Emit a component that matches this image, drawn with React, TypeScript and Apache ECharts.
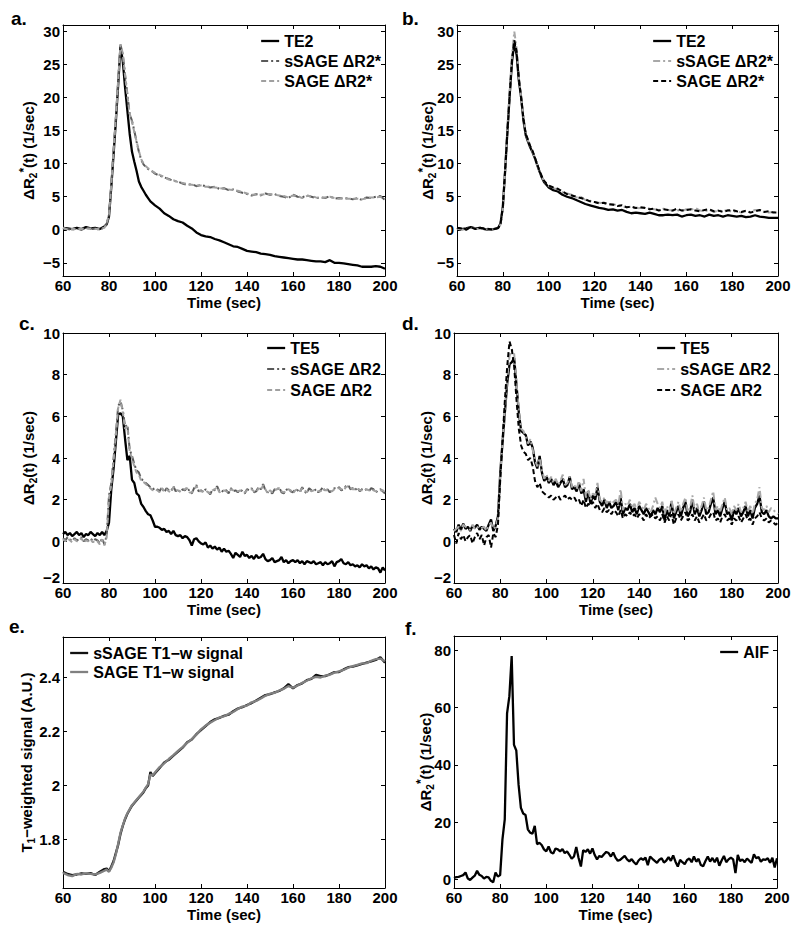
import React, { useEffect, useRef } from "react";
import * as echarts from "echarts";

// ---------- time grids ----------
const tA = [60, 62, 64, 66, 68, 70, 72, 74, 76, 78,
  79, 80, 81, 82, 83, 84, 85, 86, 87, 88, 89, 90, 91, 92, 93, 94, 95, 96, 97, 98, 99, 100,
  102, 104, 106, 108, 110, 112, 114, 116, 118, 120, 122, 124, 126, 128, 130, 132, 134, 136, 138, 140,
  142, 144, 146, 148, 150, 152, 154, 156, 158, 160, 162, 164, 166, 168, 170, 172, 174, 176, 178, 180,
  182, 184, 186, 188, 190, 192, 194, 196, 198, 200];
const tB: number[] = [];
for (let s = 60; s <= 200; s++) tB.push(s);

// ---------- panel a ----------
const aTE2 = [0.3, 0.2, 0.1, 0.3, 0.1, 0.4, 0.2, 0.3, 0.1, 0.5,
  0.8, 2.0, 6.5, 11.5, 16.5, 22, 27.8, 25.5, 21.5, 18, 14.5, 11.8, 10.3, 8.9, 7.3, 6.5, 5.9, 5.3, 4.8, 4.3, 4.0, 3.7,
  3.2, 2.5, 2.1, 1.6, 1.3, 1.1, 0.6, 0.2, -0.4, -0.8, -1.0, -1.1, -1.4, -1.6, -1.9, -2.2, -2.5, -2.6, -2.9, -3.2,
  -3.3, -3.4, -3.6, -3.7, -3.8, -4.0, -4.1, -4.2, -4.3, -4.4, -4.5, -4.5, -4.6, -4.7, -4.8, -4.8, -4.9, -4.6, -5.0, -5.0,
  -5.1, -5.2, -5.3, -5.4, -5.6, -5.6, -5.6, -5.5, -5.6, -5.9];
const aSSAGE = [0.2, 0.1, 0.0, 0.2, 0.0, 0.3, 0.1, 0.2, 0.0, 0.4,
  0.9, 2.2, 6.8, 12, 17, 22.5, 28, 26.5, 23.5, 20.5, 17.5, 16.5, 15, 13.3, 11.8, 10.6, 9.9, 9.5, 9.2, 9.0, 8.8, 8.5,
  8.2, 7.9, 7.7, 7.4, 7.3, 7.0, 6.8, 6.9, 6.6, 6.8, 6.6, 6.4, 6.5, 6.2, 6.3, 6.0, 6.1, 5.8, 5.6, 5.4,
  5.2, 5.4, 5.2, 5.5, 5.3, 5.4, 5.1, 5.0, 4.8, 5.3, 5.0, 4.9, 5.2, 5.0, 4.8, 4.9, 4.8, 5.1, 4.7, 4.8,
  4.7, 4.8, 4.6, 4.8, 4.5, 4.9, 4.8, 5.0, 5.1, 4.5];
const aSAGE = [0.3, 0.0, 0.1, 0.1, 0.1, 0.2, 0.2, 0.1, 0.1, 0.3,
  1.0, 2.3, 6.9, 12.2, 17.2, 22.8, 28.1, 26.7, 23.3, 20.3, 17.6, 16.3, 14.8, 13.4, 11.9, 10.7, 10.0, 9.6, 9.3, 9.1, 8.8, 8.6,
  8.3, 8.0, 7.6, 7.5, 7.2, 7.1, 6.9, 6.8, 6.7, 6.7, 6.5, 6.5, 6.4, 6.3, 6.2, 6.1, 6.0, 5.9, 5.7, 5.5,
  5.3, 5.3, 5.3, 5.4, 5.4, 5.3, 5.2, 5.1, 4.9, 5.2, 5.1, 4.8, 5.1, 5.1, 4.9, 4.8, 4.9, 5.0, 4.8, 4.7,
  4.8, 4.7, 4.7, 4.7, 4.6, 4.8, 4.9, 4.9, 5.0, 4.6];

// ---------- panel b ----------
const bTE2 = [0.3, 0.1, 0.2, 0.4, 0.2, 0.3, 0.1, 0.0, 0.1, 0.3,
  1.0, 3.5, 9, 15, 20.5, 25.5, 28.3, 26.5, 22.5, 20, 16.5, 14.3, 13.3, 12.4, 11.7, 10.8, 9.8, 8.8, 7.9, 7.2, 6.8, 6.4,
  6.0, 5.8, 5.3, 5.0, 4.8, 4.5, 4.2, 3.9, 3.7, 3.5, 3.3, 3.2, 3.0, 3.1, 2.9, 3.0, 2.7, 2.5, 2.6, 2.5,
  2.4, 2.6, 2.4, 2.2, 2.2, 2.3, 2.2, 2.3, 2.0, 2.2, 2.3, 2.1, 2.2, 2.0, 2.3, 2.1, 2.2, 2.0, 2.2, 2.1,
  2.0, 2.1, 1.9, 2.0, 2.2, 2.0, 1.9, 1.8, 1.8, 1.8];
const bSSAGE = [0.2, 0.0, 0.1, 0.3, 0.2, 0.1, 0.2, 0.0, 0.1, 0.2,
  0.8, 3.2, 9, 15.5, 21, 26.5, 30, 27.5, 23, 20, 17, 14.5, 13.5, 12.5, 11.8, 10.8, 9.8, 8.8, 8.0, 7.4, 6.9, 6.6,
  6.3, 6.1, 5.7, 5.5, 5.3, 4.9, 5.0, 4.5, 4.4, 4.2, 4.1, 4.0, 3.8, 3.9, 3.7, 3.6, 3.4, 3.5, 3.2, 3.3,
  3.4, 3.2, 3.1, 3.0, 3.2, 3.0, 2.9, 3.0, 2.8, 3.1, 3.0, 3.3, 2.9, 2.8, 3.0, 2.7, 2.9, 2.8, 3.0, 2.7,
  2.8, 2.6, 2.8, 2.7, 3.0, 2.9, 2.7, 2.6, 2.7, 2.6];
const bSAGE = [0.3, 0.2, 0.0, 0.4, 0.1, 0.3, 0.2, 0.1, 0.0, 0.3,
  0.9, 3.4, 9, 15, 20.5, 25.8, 28.7, 27, 22.8, 19.8, 16.8, 14.5, 13.6, 12.6, 11.9, 10.9, 9.9, 8.9, 8.1, 7.4, 7.0, 6.7,
  6.4, 6.2, 5.8, 5.4, 5.2, 5.0, 4.8, 4.6, 4.3, 4.2, 4.0, 4.1, 3.9, 3.8, 3.6, 3.7, 3.4, 3.5, 3.3, 3.4,
  3.3, 3.1, 3.2, 2.9, 3.1, 3.0, 2.9, 3.2, 2.9, 3.0, 3.1, 2.9, 2.8, 3.0, 3.1, 2.8, 2.9, 2.7, 2.9, 3.0,
  2.8, 2.7, 2.9, 2.6, 2.8, 3.0, 2.7, 2.8, 2.6, 2.6];

// ---------- panel c ----------
const cTE5 = [0.35, 0.45, 0.3, 0.4, 0.25, 0.35, 0.45, 0.3, 0.4, 0.2, 0.35, 0.3, 0.45, 0.35, 0.25, 0.4, 0.3, 0.45, 0.3,
  0.5, 0.9, 2.5, 3.5, 4.8, 6.1, 6.15, 6.0, 4.9, 3.9, 4.1, 2.95, 2.8, 2.3, 2.2, 1.8, 1.65, 1.45, 1.3, 1.25, 1.0, 0.7,
  0.7, 0.65, 0.55, 0.6, 0.45, 0.5, 0.35, 0.5, 0.3, 0.25,
  0.3, 0.15, 0.25, 0.2, 0.05, -0.2, 0.1, 0.15, 0.0, -0.1,
  -0.15, -0.05, -0.3, -0.2, -0.35, -0.25, -0.4, -0.3, -0.5, -0.35,
  -0.5, -0.45, -0.6, -0.8, -0.55, -0.65, -0.75, -0.5, -0.7, -0.65,
  -0.8, -0.7, -0.85, -0.65, -0.8, -0.75, -0.6, -0.85, -0.95, -0.9,
  -0.8, -1.0, -0.95, -0.9, -0.75, -1.0, -0.9, -1.05, -0.95, -0.9,
  -1.0, -0.9, -1.05, -0.95, -1.1, -0.95, -1.0, -1.05, -0.95, -1.1,
  -1.05, -1.0, -1.15, -1.0, -1.1, -1.05, -0.95, -1.2, -1.0, -0.95,
  -0.85, -1.05, -1.1, -1.0, -1.15, -1.1, -1.2, -1.15, -1.25, -1.1,
  -1.2, -1.15, -1.3, -1.2, -1.35, -1.25, -1.3, -1.5, -1.25, -1.4];
const cSSAGE = [0.15, 0.05, 0.2, 0.1, 0.0, 0.15, 0.05, 0.1, 0.2, 0.0, 0.1, 0.05, 0.15, 0.0, 0.1, 0.05, -0.1, 0.15, -0.15,
  0.3, 2.2, 2.8, 4.0, 5.2, 6.5, 6.7, 6.3, 5.5, 5.6, 4.4, 4.1, 3.7, 3.4, 3.3, 3.0, 2.9, 2.8, 2.7, 2.6, 2.5, 2.55,
  2.5, 2.4, 2.6, 2.35, 2.55, 2.45, 2.4, 2.65, 2.4, 2.5,
  2.35, 2.5, 2.45, 2.6, 2.4, 2.3, 2.55, 2.7, 2.4, 2.45,
  2.35, 2.5, 2.4, 2.25, 2.5, 2.45, 2.65, 2.4, 2.35, 2.5,
  2.45, 2.3, 2.55, 2.4, 2.45, 2.35, 2.5, 2.4, 2.3, 2.5,
  2.45, 2.55, 2.35, 2.4, 2.6, 2.5, 2.75, 2.45, 2.35, 2.4,
  2.3, 2.5, 2.45, 2.6, 2.35, 2.3, 2.45, 2.55, 2.4, 2.35,
  2.5, 2.45, 2.35, 2.6, 2.4, 2.3, 2.55, 2.45, 2.4, 2.5,
  2.35, 2.45, 2.6, 2.4, 2.5, 2.35, 2.45, 2.55, 2.5, 2.6,
  2.45, 2.5, 2.65, 2.7, 2.5, 2.55, 2.45, 2.6, 2.4, 2.5,
  2.55, 2.45, 2.4, 2.55, 2.5, 2.35, 2.45, 2.5, 2.4, 2.3];
const cSAGE = [0.1, 0.0, 0.15, 0.05, -0.05, 0.1, 0.0, 0.05, 0.15, -0.05, 0.05, 0.0, 0.1, -0.05, 0.05, 0.0, -0.15, 0.1, -0.2,
  0.2, 2.1, 2.7, 3.9, 5.1, 6.4, 6.8, 6.2, 5.4, 5.5, 4.3, 4.0, 3.6, 3.3, 3.2, 2.9, 2.85, 2.75, 2.65, 2.55, 2.45, 2.5,
  2.45, 2.35, 2.55, 2.4, 2.5, 2.4, 2.35, 2.6, 2.45, 2.45,
  2.4, 2.45, 2.5, 2.55, 2.35, 2.35, 2.5, 2.65, 2.45, 2.4,
  2.4, 2.45, 2.35, 2.3, 2.45, 2.5, 2.6, 2.35, 2.4, 2.45,
  2.4, 2.35, 2.5, 2.45, 2.4, 2.4, 2.45, 2.35, 2.35, 2.45,
  2.5, 2.5, 2.4, 2.35, 2.55, 2.45, 2.7, 2.5, 2.3, 2.45,
  2.35, 2.45, 2.5, 2.55, 2.4, 2.35, 2.4, 2.5, 2.45, 2.3,
  2.45, 2.5, 2.4, 2.55, 2.45, 2.35, 2.5, 2.4, 2.45, 2.45,
  2.4, 2.4, 2.55, 2.45, 2.45, 2.4, 2.4, 2.5, 2.55, 2.55,
  2.5, 2.45, 2.6, 2.65, 2.55, 2.5, 2.5, 2.55, 2.45, 2.45,
  2.5, 2.5, 2.45, 2.5, 2.45, 2.4, 2.4, 2.45, 2.45, 2.35];

// ---------- panel d ----------
const dTE5 = [0.6, 0.45, 0.8, 0.55, 0.85, 0.6, 0.7, 0.5, 0.75, 0.65, 0.8, 0.55, 0.7, 0.6, 0.5, 0.8, 1.05, 0.5, 0.75,
  1.2, 3.3, 4.8, 6.2, 7.6, 8.5, 8.6, 8.8, 7.5, 6.2, 5.3, 5.2, 5.1, 4.6, 4.8, 4.5, 3.8, 3.5, 4.1, 3.3, 2.9, 3.1,
  2.8, 3.0, 2.7, 2.9, 2.6, 2.8, 3.0, 2.6, 2.7, 3.1,
  2.5, 2.6, 2.4, 2.8, 2.3, 2.5, 1.9, 2.4, 1.8, 2.2,
  2.0, 2.6, 1.9, 1.7, 2.0, 1.6, 1.9, 1.6, 1.7, 1.9,
  1.5, 2.1, 1.3, 1.6, 1.5, 1.8, 1.4, 1.6, 1.3, 1.7,
  1.5, 1.3, 1.6, 1.4, 1.2, 1.5, 1.3, 1.6, 1.4, 1.7,
  1.0, 1.5, 1.2, 1.9, 1.1, 1.4, 1.7, 1.2, 1.6, 1.9,
  1.2, 1.4, 2.0, 1.3, 1.6, 1.2, 1.5, 1.9, 1.3, 1.4,
  1.8, 2.1, 1.3, 1.5, 1.2, 1.6, 1.9, 1.3, 1.4, 1.0,
  1.5, 1.3, 1.6, 1.2, 1.4, 1.7, 1.2, 1.5, 1.1, 1.6,
  1.8, 2.2, 1.4, 1.3, 1.5, 1.2, 1.1, 1.2, 1.1, 1.1];
const dSSAGE = [0.5, 0.6, 0.7, 0.5, 0.8, 0.7, 0.6, 0.55, 0.8, 0.6, 0.7, 0.6, 0.65, 0.7, 0.5, 0.75, 0.9, 0.6, 0.7,
  1.1, 3.2, 4.8, 6.3, 7.8, 8.9, 9.2, 9.0, 7.6, 6.3, 5.4, 5.3, 5.0, 4.7, 4.9, 4.4, 3.9, 3.6, 4.0, 3.4, 3.0, 3.2,
  2.9, 3.1, 2.8, 3.0, 2.7, 2.9, 3.2, 2.7, 2.8, 3.1,
  2.6, 2.7, 2.5, 2.9, 2.4, 3.0, 2.1, 2.5, 2.0, 2.3,
  2.2, 2.8, 2.0, 1.9, 2.1, 1.8, 2.0, 1.8, 1.9, 2.0,
  1.7, 2.5, 1.5, 1.8, 1.7, 2.0, 1.6, 1.8, 1.5, 1.9,
  1.7, 1.5, 1.8, 1.6, 1.4, 1.7, 2.1, 1.8, 1.6, 1.9,
  1.3, 1.7, 1.4, 2.0, 1.3, 1.6, 1.9, 1.4, 1.8, 2.1,
  1.4, 1.6, 2.2, 1.5, 1.8, 1.4, 1.7, 2.1, 1.5, 1.6,
  2.0, 2.4, 1.5, 1.7, 1.4, 1.8, 2.1, 1.5, 1.6, 1.3,
  1.7, 1.5, 1.8, 1.4, 1.6, 1.9, 1.4, 1.7, 1.3, 1.8,
  2.0, 2.6, 1.6, 1.5, 1.7, 1.4, 1.6, 1.5, 1.4, 1.3];
const dSAGE = [0.3, -0.1, 0.4, 0.1, 0.3, 0.0, 0.2, 0.3, -0.1, 0.2, 0.4, 0.1, 0.3, -0.2, 0.2, 0.3, -0.3, 0.4, 0.2,
  0.8, 3.0, 4.9, 6.8, 8.4, 9.6, 9.2, 8.4, 6.8, 5.4, 4.6, 4.3, 4.2, 3.9, 4.0, 3.6, 2.9, 2.6, 2.8, 2.4, 2.3, 2.2,
  2.1, 2.2, 2.0, 2.1, 2.2, 2.0, 2.1, 2.2, 2.0, 2.1,
  2.0, 2.1, 1.9, 2.0, 1.7, 2.0, 1.6, 1.8, 1.7, 1.9,
  1.6, 1.8, 1.5, 1.4, 1.6, 1.4, 1.5, 1.3, 1.5, 1.4,
  1.2, 1.5, 1.1, 1.3, 1.2, 1.4, 1.2, 1.3, 1.1, 1.3,
  1.2, 1.0, 1.3, 1.1, 1.2, 1.3, 1.1, 1.2, 1.0, 1.3,
  0.9, 1.2, 1.0, 1.3, 0.8, 1.1, 1.3, 1.0, 1.2, 1.4,
  1.0, 1.1, 1.3, 1.0, 1.2, 0.9, 1.1, 1.3, 1.0, 1.1,
  1.3, 1.4, 1.0, 1.1, 0.9, 1.2, 1.3, 1.0, 1.1, 0.8,
  1.1, 1.0, 1.2, 0.9, 1.1, 1.3, 1.0, 1.1, 0.8, 1.1,
  1.2, 1.4, 1.1, 1.0, 1.1, 0.9, 1.0, 0.9, 0.8, 0.9];

// ---------- panel e ----------
const eSSAGE = [1.680, 1.672, 1.668, 1.670, 1.674, 1.672, 1.675, 1.668, 1.680, 1.690,
  1.692, 1.682, 1.700, 1.720, 1.750, 1.780, 1.820, 1.850, 1.875, 1.895, 1.910, 1.925, 1.935, 1.945, 1.955, 1.965,
  1.975, 1.990, 2.000, 2.050, 2.035, 2.045,
  2.065, 2.085, 2.095, 2.110, 2.125, 2.140, 2.160, 2.170, 2.190, 2.205,
  2.220, 2.235, 2.245, 2.250, 2.258, 2.262, 2.275, 2.285, 2.290, 2.298,
  2.305, 2.315, 2.325, 2.335, 2.338, 2.345, 2.350, 2.360, 2.375, 2.360,
  2.372, 2.378, 2.390, 2.395, 2.410, 2.405, 2.405, 2.412, 2.420, 2.420,
  2.430, 2.438, 2.440, 2.445, 2.450, 2.455, 2.460, 2.465, 2.475, 2.455];
const eSAGE = [1.676, 1.668, 1.664, 1.672, 1.670, 1.674, 1.672, 1.670, 1.676, 1.684,
  1.688, 1.680, 1.695, 1.715, 1.745, 1.785, 1.825, 1.852, 1.878, 1.897, 1.912, 1.927, 1.937, 1.947, 1.957, 1.967,
  1.978, 1.992, 2.005, 2.040, 2.038, 2.048,
  2.068, 2.082, 2.098, 2.112, 2.128, 2.142, 2.158, 2.172, 2.188, 2.208,
  2.222, 2.232, 2.242, 2.252, 2.256, 2.265, 2.272, 2.283, 2.292, 2.296,
  2.308, 2.313, 2.322, 2.332, 2.340, 2.343, 2.352, 2.358, 2.368, 2.362,
  2.370, 2.380, 2.388, 2.397, 2.402, 2.400, 2.407, 2.410, 2.418, 2.423,
  2.428, 2.436, 2.442, 2.447, 2.452, 2.453, 2.462, 2.468, 2.470, 2.460];

// ---------- panel f ----------
const fAIF = [0.5, 0.8, 0.9, 1.2, 1.5, 2.4, 0.3, -0.2, 0.6, 1.3, 3.0, 1.6, 1.2, 0.3, 0.9, 0.7, -0.5, -1.0, 2.4,
  1.0, 1.5, 14, 21, 58, 64, 78, 47, 45, 33, 25, 23, 22.5, 17.5, 16.3, 16, 18.7, 12.3, 12.8, 12.0, 10.5, 9.8,
  11.5, 9.5, 9.0, 10.8, 10.5, 9.8, 10.6, 9.2, 9.8, 8.6,
  7.2, 8.0, 11.3, 7.5, 4.5, 10.2, 9.6, 10.5, 9.0, 10.8,
  8.5, 7.0, 8.2, 7.8, 8.8, 9.6, 9.2, 8.0, 9.4, 7.6,
  6.5, 6.8, 7.5, 8.2, 7.0, 6.3, 7.1, 6.0, 5.2, 6.6,
  7.4, 6.8, 7.6, 5.0, 8.0, 7.2, 6.5, 5.8, 6.9, 7.4,
  5.9, 6.6, 7.8, 6.5, 8.4, 6.2, 4.5, 6.8, 6.0, 5.3,
  6.8, 7.3, 6.0, 8.0, 6.2, 7.2, 5.0, 4.6, 6.4, 8.0,
  6.2, 7.5, 6.0, 7.6, 4.8, 6.6, 8.2, 6.0, 7.0, 7.6,
  7.0, 2.2, 8.6, 6.4, 7.0, 6.0, 7.3, 6.5, 5.8, 8.8,
  7.4, 7.8, 6.2, 7.0, 6.8, 7.4, 5.8, 7.6, 4.2, 7.4];

// ---------- tick labels ----------
const xTicks = [60, 80, 100, 120, 140, 160, 180, 200];

const FONT = '"Liberation Sans", Arial, Helvetica, sans-serif';
const DASHDOT = [7, 3, 2, 3];
const DASH = [5, 3];

type Ser = { name: string; t: number[]; v: number[]; color: string; width: number; dash: any };
type Panel = {
  id: string;
  grid: { left: number; top: number; width: number; height: number };
  yMin: number; yMax: number; yStep: number;
  yName: string; yGap: number;
  legend: { left: number; top: number; gap: number };
  label: { text: string; x: number; y: number };
  series: Ser[];
};

const R2STAR = "{m|ΔR}{s|2}{p|*}{m|(t) (1/sec)}";
const R2 = "{m|ΔR}{s|2}{m|(t) (1/sec)}";
const T1 = "{m|T}{s|1}{m|−weighted signal (A.U.)}";

const panels: Panel[] = [
  {
    id: "a", grid: { left: 63, top: 25, width: 322, height: 251 },
    yMin: -7, yMax: 31, yStep: 5, yName: R2STAR, yGap: 25,
    legend: { left: 260, top: 33, gap: 4 },
    label: { text: "a.", x: 11, y: 9 },
    series: [
      { name: "TE2", t: tA, v: aTE2, color: "#000000", width: 2.3, dash: "solid" },
      { name: "sSAGE ΔR2*", t: tA, v: aSSAGE, color: "#5a5a5a", width: 2, dash: DASHDOT },
      { name: "SAGE ΔR2*", t: tA, v: aSAGE, color: "#a0a0a0", width: 2, dash: DASH },
    ],
  },
  {
    id: "b", grid: { left: 457, top: 25, width: 321, height: 251 },
    yMin: -7, yMax: 31, yStep: 5, yName: R2STAR, yGap: 20,
    legend: { left: 652, top: 33, gap: 4 },
    label: { text: "b.", x: 402, y: 9 },
    series: [
      { name: "TE2", t: tA, v: bTE2, color: "#000000", width: 2.3, dash: "solid" },
      { name: "sSAGE ΔR2*", t: tA, v: bSSAGE, color: "#a8a8a8", width: 2, dash: DASHDOT },
      { name: "SAGE ΔR2*", t: tA, v: bSAGE, color: "#000000", width: 2, dash: DASH },
    ],
  },
  {
    id: "c", grid: { left: 63, top: 333, width: 322, height: 250 },
    yMin: -2, yMax: 10, yStep: 2, yName: R2, yGap: 25,
    legend: { left: 266, top: 340, gap: 5 },
    label: { text: "c.", x: 19, y: 314 },
    series: [
      { name: "TE5", t: tB, v: cTE5, color: "#000000", width: 2.3, dash: "solid" },
      { name: "sSAGE ΔR2", t: tB, v: cSSAGE, color: "#5a5a5a", width: 2, dash: DASHDOT },
      { name: "SAGE ΔR2", t: tB, v: cSAGE, color: "#a0a0a0", width: 2, dash: DASH },
    ],
  },
  {
    id: "d", grid: { left: 454, top: 333, width: 324, height: 250 },
    yMin: -2, yMax: 10, yStep: 2, yName: R2, yGap: 18,
    legend: { left: 656, top: 340, gap: 5 },
    label: { text: "d.", x: 402, y: 314 },
    series: [
      { name: "TE5", t: tB, v: dTE5, color: "#000000", width: 2.3, dash: "solid" },
      { name: "sSAGE ΔR2", t: tB, v: dSSAGE, color: "#a8a8a8", width: 2, dash: DASHDOT },
      { name: "SAGE ΔR2", t: tB, v: dSAGE, color: "#000000", width: 2, dash: DASH },
    ],
  },
  {
    id: "e", grid: { left: 63, top: 637, width: 322, height: 251 },
    yMin: 1.62, yMax: 2.55, yStep: 0.2, yName: T1, yGap: 27,
    legend: { left: 69, top: 645, gap: 3 },
    label: { text: "e.", x: 9, y: 617 },
    series: [
      { name: "sSAGE T1−w signal", t: tA, v: eSSAGE, color: "#111111", width: 2.3, dash: "solid" },
      { name: "SAGE T1−w signal", t: tA, v: eSAGE, color: "#808080", width: 2.3, dash: "solid" },
    ],
  },
  {
    id: "f", grid: { left: 454, top: 636, width: 323, height: 252 },
    yMin: -3, yMax: 85, yStep: 20, yName: R2STAR, yGap: 19,
    legend: { left: 719, top: 644, gap: 3 },
    label: { text: "f.", x: 405, y: 619 },
    series: [
      { name: "AIF", t: tB, v: fAIF, color: "#000000", width: 2.3, dash: "solid" },
    ],
  },
];

const AX = { color: "#000000", width: 1 };

function fmtNum(v: number): string {
  const r = Math.round(v * 1000) / 1000;
  return String(r).replace("-", "−");
}

function buildOption() {
  const grid: any[] = [];
  const xAxis: any[] = [];
  const yAxis: any[] = [];
  const series: any[] = [];
  const legend: any[] = [];
  const graphic: any[] = [];

  const rich = {
    m: { fontSize: 15, fontWeight: "bold", fontFamily: FONT, color: "#000", lineHeight: 20 },
    s: { fontSize: 10, fontWeight: "bold", fontFamily: FONT, color: "#000", lineHeight: 10, verticalAlign: "bottom" },
    p: { fontSize: 12, fontWeight: "bold", fontFamily: FONT, color: "#000", lineHeight: 12, verticalAlign: "top" },
  };

  panels.forEach((p, i) => {
    grid.push({ ...p.grid, containLabel: false, outerBoundsMode: "none", show: false });

    const tick = { show: true, inside: true, length: 4, lineStyle: AX };
    const labelStyle = { fontSize: 15, fontWeight: "bold", fontFamily: FONT, color: "#000" };

    xAxis.push({
      type: "value", gridIndex: i, position: "bottom", min: xTicks[0], max: xTicks[xTicks.length - 1], interval: 20,
      axisLine: { show: true, onZero: false, lineStyle: AX },
      axisTick: tick,
      splitLine: { show: false },
      axisLabel: { ...labelStyle, margin: 2, formatter: (v: number) => fmtNum(v) },
      name: "Time (sec)", nameLocation: "middle", nameGap: 19, nameMoveOverlap: false,
      nameTextStyle: { ...labelStyle },
    });
    xAxis.push({
      type: "value", gridIndex: i, position: "top", min: xTicks[0], max: xTicks[xTicks.length - 1], interval: 20,
      axisLine: { show: true, onZero: false, lineStyle: AX },
      axisTick: tick,
      splitLine: { show: false },
      axisLabel: { show: false },
    });

    const step = p.yStep;
    const yFmt = (v: number) => {
      const k = v / step;
      if (Math.abs(k - Math.round(k)) >= 1e-6) return "";
      // the lowest label sits in the corner next to the first time label: lift it a little
      if (Math.abs(v - p.yMin) < 1e-6) return "{lo|" + fmtNum(v) + "}";
      return fmtNum(v);
    };
    const ySplit = Math.max(1, Math.round((p.yMax - p.yMin) / step));
    yAxis.push({
      type: "value", gridIndex: i, position: "left", min: p.yMin, max: p.yMax,
      minInterval: step, maxInterval: step, splitNumber: ySplit,
      axisLine: { show: true, onZero: false, lineStyle: AX },
      axisTick: tick,
      splitLine: { show: false },
      axisLabel: {
        ...labelStyle, margin: 3, formatter: yFmt,
        rich: { lo: { ...labelStyle, padding: [0, 0, 12, 0] } },
      },
      name: p.yName, nameLocation: "middle", nameGap: p.yGap, nameRotate: 90, nameMoveOverlap: false,
      nameTextStyle: { rich, fontSize: 15, fontWeight: "bold", fontFamily: FONT, color: "#000" },
    });
    yAxis.push({
      type: "value", gridIndex: i, position: "right", min: p.yMin, max: p.yMax,
      minInterval: step, maxInterval: step, splitNumber: ySplit,
      axisLine: { show: true, onZero: false, lineStyle: AX },
      axisTick: tick,
      splitLine: { show: false },
      axisLabel: { show: false },
    });

    const names: string[] = [];
    p.series.forEach((s) => {
      const full = p.id + "|" + s.name;
      names.push(full);
      const data: number[][] = [];
      for (let k = 0; k < s.t.length && k < s.v.length; k++) data.push([s.t[k], s.v[k]]);
      series.push({
        type: "line", name: full, xAxisIndex: 2 * i, yAxisIndex: 2 * i,
        data, symbol: "none", showSymbol: false, silent: true, clip: true,
        lineStyle: { color: s.color, width: s.width, type: s.dash },
        itemStyle: { color: s.color },
        emphasis: { disabled: true },
      });
    });

    legend.push({
      show: true, data: names, orient: "vertical", left: p.legend.left, top: p.legend.top,
      itemWidth: 18, itemHeight: 12, itemGap: p.legend.gap, selectedMode: false, padding: 0,
      itemStyle: { opacity: 0, borderWidth: 0 },
      lineStyle: { type: "inherit", width: "inherit", color: "inherit", opacity: 1 },
      formatter: (n: string) => n.slice(n.indexOf("|") + 1),
      textStyle: { fontSize: 16, fontWeight: "bold", fontFamily: FONT, color: "#000", lineHeight: 16 },
    });

    graphic.push({
      type: "text", left: p.label.x, top: p.label.y, silent: true,
      style: { text: p.label.text, fill: "#000", font: 'bold 19px "Liberation Sans", Arial, sans-serif' },
    });
  });

  return {
    animation: false,
    backgroundColor: "#ffffff",
    grid, xAxis, yAxis, series, legend, graphic,
    tooltip: { show: false },
  };
}

export default function App() {
  const ref = useRef<HTMLDivElement>(null);
  useEffect(() => {
    document.body.style.margin = "0";
    const chart = echarts.init(ref.current as HTMLDivElement, undefined, { renderer: "svg" });
    chart.setOption(buildOption() as any);
    return () => chart.dispose();
  }, []);
  return <div ref={ref} style={{ width: 800, height: 937, background: "#ffffff" }} />;
}
